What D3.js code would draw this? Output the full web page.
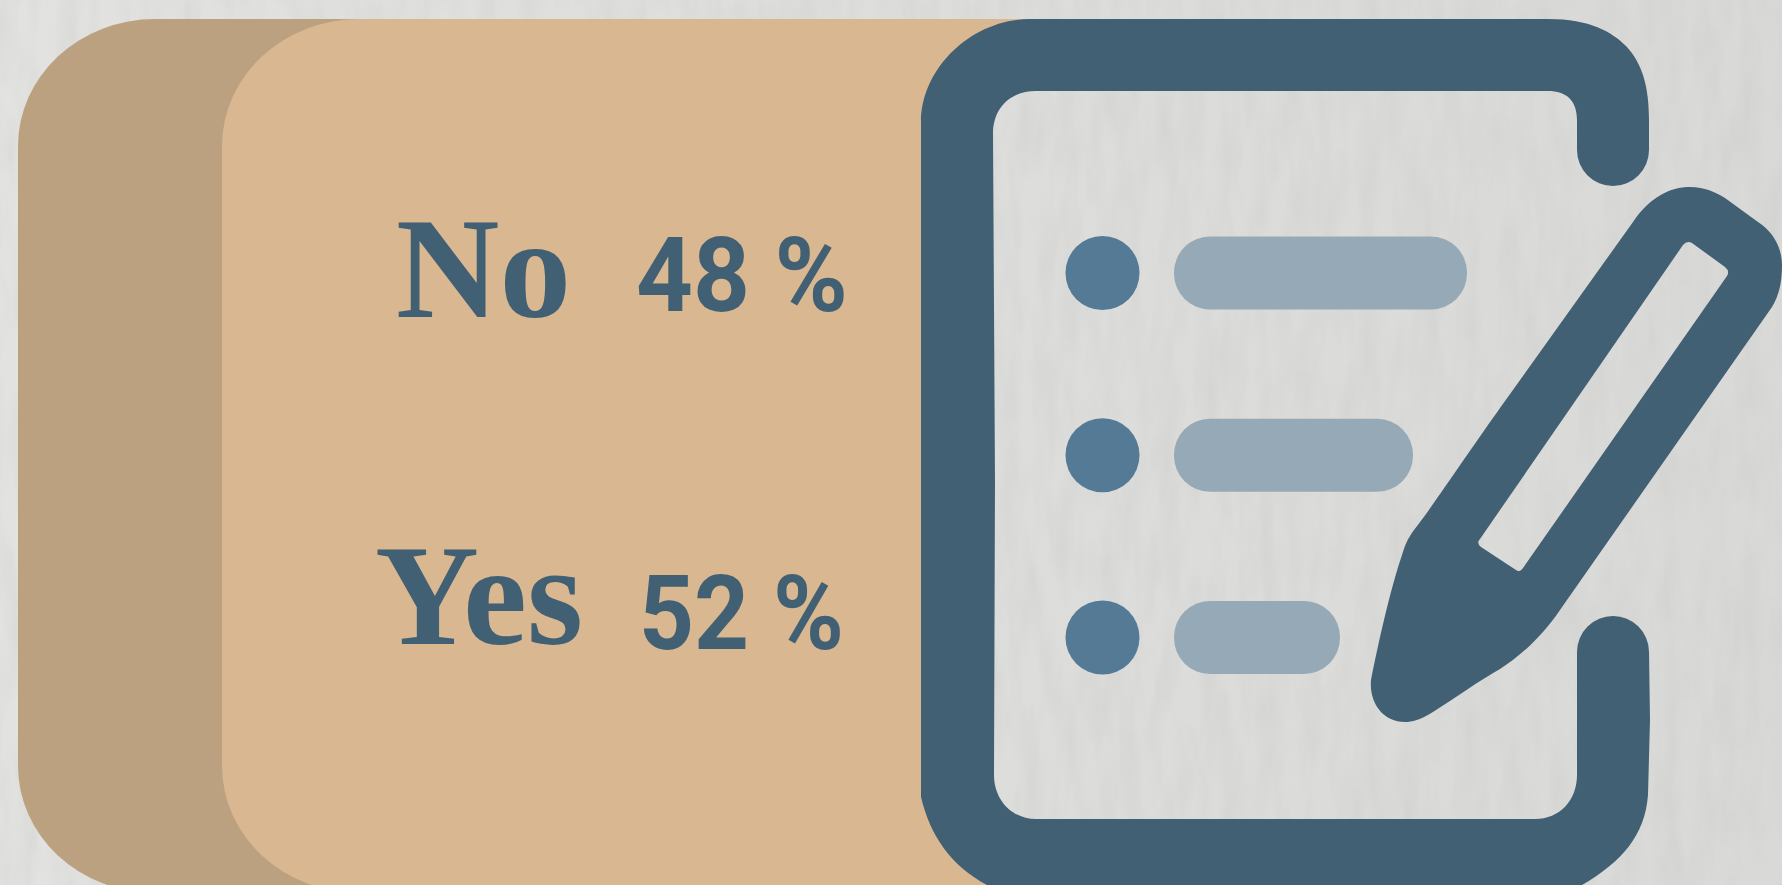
<!DOCTYPE html>
<html>
<head>
<meta charset="utf-8">
<script src="https://cdn.jsdelivr.net/npm/d3@7"></script>
<style>
  html, body { margin: 0; padding: 0; overflow: hidden; background: #dcdcda; }
  svg { display: block; }
</style>
</head>
<body>
<div id="chart"></div>
<script>
const categories = ['No', 'Yes'];
const values = [48, 52];

const width = 1782;
const height = 885;
const slate = '#426073';

const svg = d3.select('#chart').append('svg')
  .attr('width', width)
  .attr('height', height)
  .attr('viewBox', `0 0 ${width} ${height}`);

const defs = svg.append('defs');

// paper background: soft left to right shade and a streaky grain
const shade = defs.append('linearGradient').attr('id', 'paper');
shade.append('stop').attr('offset', '0').attr('stop-color', '#e2e2e0');
shade.append('stop').attr('offset', '1').attr('stop-color', '#d9d9d7');

const grain = defs.append('filter').attr('id', 'grain')
  .attr('x', 0).attr('y', 0).attr('width', '100%').attr('height', '100%');
grain.append('feTurbulence')
  .attr('type', 'fractalNoise')
  .attr('baseFrequency', '0.05 0.012')
  .attr('numOctaves', 3)
  .attr('seed', 4);
grain.append('feColorMatrix')
  .attr('type', 'matrix')
  .attr('values', '0 0 0 0 0.45  0 0 0 0 0.45  0 0 0 0 0.44  0.32 0 0 0 -0.11');

// keep the tan out of the board's see-through middle
const cardClip = defs.append('clipPath').attr('id', 'cardClip');
cardClip.append('rect').attr('width', 975).attr('height', height);
cardClip.append('rect').attr('width', 1040).attr('height', 60);
cardClip.append('rect').attr('y', 840).attr('width', 1040).attr('height', 45);

svg.append('rect').attr('width', width).attr('height', height).attr('fill', 'url(#paper)');
svg.append('rect').attr('width', width).attr('height', height).attr('filter', 'url(#grain)');

// two overlapping tan cards, both run off the bottom edge
const cards = [
  {x: 18, fill: '#bba180'},
  {x: 222, fill: '#d8b791'}
];
svg.append('g')
  .attr('clip-path', 'url(#cardClip)')
  .selectAll('rect.card')
  .data(cards)
  .join('rect')
  .attr('class', 'card')
  .attr('x', d => d.x)
  .attr('y', 19)
  .attr('width', 1400)
  .attr('height', 874)
  .attr('rx', 137)
  .attr('ry', 127)
  .attr('fill', d => d.fill);

// ****************** clipboard icon ***************************

const board = `M921 122 C921 68 972 19 1030 19 L1548 19 C1590 19 1612 32 1626 46
  C1643 64 1649 88 1649 120 L1649 150 A36 36 0 0 1 1577 150 L1577 120
  C1577 100 1566 91 1548 91 L1036 91 C1010 91 993 108 993 134 L995 480 L994 775
  C994 800 1012 819 1036 819 L1535 819 C1560 819 1577 800 1577 775 L1577 652
  A36 36 0 0 1 1649 652 L1650 720 L1648 795 C1645 835 1622 862 1582 885 L987 885
  C950 865 930 835 921 797 Z`;

const pen = `M1633 222 C1650 197 1670 187 1690 187 C1705 187 1715 192 1725 198 L1758 222
  C1775 233 1782 250 1782 265 C1782 285 1778 297 1772 307 L1560 610 C1545 632 1525 653 1500 669
  C1480 680 1455 698 1433 712 C1420 720 1412 722 1405 722 C1383 722 1369 703 1371 680
  C1378 645 1390 590 1402 555 C1405 545 1408 538 1414 530 C1430 510 1470 450 1500 408 Z
  M1683 245 Q1687 240 1692 243 L1725 267 Q1730 271 1727 276 L1523 568 Q1520 573 1516 570
  L1481 547 Q1476 543 1480 539 Z`;

svg.append('path').attr('d', board).attr('fill', slate);
svg.append('path').attr('d', pen).attr('fill', slate).attr('fill-rule', 'evenodd');

// checklist rows on the board
const listRows = [0, 1, 2];
const listEnds = [1467, 1413, 1340];
const listY = d3.scalePoint().domain(listRows).range([273, 637.5]);

svg.selectAll('circle.bullet')
  .data(listRows)
  .join('circle')
  .attr('class', 'bullet')
  .attr('cx', 1102.5)
  .attr('cy', d => listY(d))
  .attr('r', 37)
  .attr('fill', '#557a95');

svg.selectAll('rect.item')
  .data(listRows)
  .join('rect')
  .attr('class', 'item')
  .attr('x', 1174)
  .attr('y', d => listY(d) - 36.5)
  .attr('width', d => listEnds[d] - 1174)
  .attr('height', 73)
  .attr('rx', 36)
  .attr('fill', '#95a9b6');

// ****************** answers ***************************

const labelY = d3.scalePoint().domain(categories).range([317, 644]);
const labelX = {No: 396, Yes: 375};
const labelLen = {No: 175, Yes: 208};
const numberX = {No: 636, Yes: 639};
const numberY = {No: 311, Yes: 649};
const numberLen = {No: 212, Yes: 205};

// squeeze a text to the width it has in the picture, left edge stays put
function fitWidth(selection, xOf, yOf, lenOf) {
  selection.attr('transform', function(d) {
    const box = this.getBBox();
    const sx = lenOf(d) / box.width;
    return `translate(${xOf(d) - box.x * sx},${yOf(d)}) scale(${sx},1)`;
  });
}

svg.selectAll('text.label')
  .data(categories)
  .join('text')
  .attr('class', 'label')
  .style('font-family', '"Liberation Serif"')
  .style('font-weight', 700)
  .style('font-size', '144px')
  .attr('fill', slate)
  .text(d => d)
  .call(fitWidth, d => labelX[d], d => labelY(d), d => labelLen[d]);

svg.selectAll('text.value')
  .data(categories)
  .join('text')
  .attr('class', 'value')
  .style('font-family', '"Roboto"')
  .style('font-weight', 700)
  .style('font-size', '104px')
  .attr('fill', slate)
  .text((d, i) => `${values[i]} %`)
  .call(fitWidth, d => numberX[d], d => numberY[d], d => numberLen[d]);
</script>
</body>
</html>
